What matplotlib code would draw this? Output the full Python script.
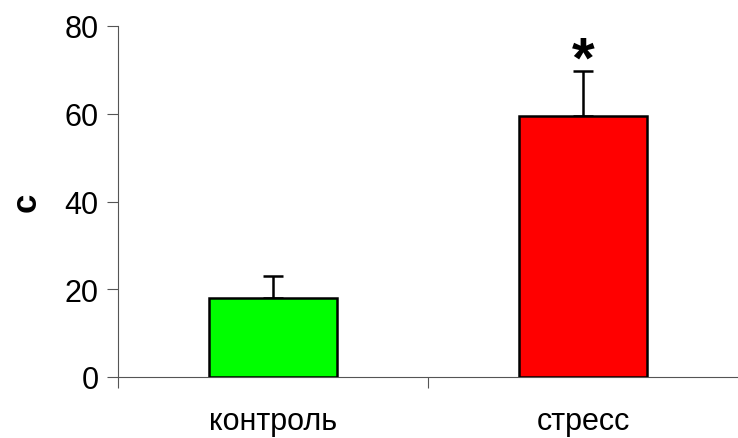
import matplotlib.pyplot as plt
from matplotlib.ticker import FixedLocator, NullFormatter

plt.rcParams["font.family"] = ["Liberation Sans", "DejaVu Sans"]

categories = ["контроль", "стресс"]
means = [18.0, 59.5]
errors = [5.0, 10.2]
colors = ["#00ff00", "#ff0000"]

fig = plt.figure(figsize=(7.38, 4.39), dpi=100)
ax = fig.add_axes([118 / 738, 1 - 378 / 439, 1 - 118 / 738, (378 - 27) / 439])

x = range(len(categories))
ax.bar(x, means, width=0.41, color=colors, edgecolor="black", linewidth=1.8, zorder=3)
ax.errorbar(x, means, yerr=[[0, 0], errors], fmt="none", ecolor="black",
            elinewidth=1.8, capsize=7.5, capthick=1.8, zorder=2)
ax.text(1, means[1] + errors[1] + 2.2, "*", ha="center", va="center",
        fontsize=42, fontweight="bold")

ax.set_xlim(-0.5, 1.5)
ax.set_ylim(0, 80)
ax.set_yticks([0, 20, 40, 60, 80])
ax.set_xticks(list(x))
ax.set_xticklabels(categories)
ax.xaxis.set_minor_locator(FixedLocator([-0.5, 0.5]))
ax.xaxis.set_minor_formatter(NullFormatter())
ax.tick_params(axis="x", which="major", length=0, pad=21, labelsize=22)
ax.tick_params(axis="x", which="minor", direction="out", length=8,
               color="#555555", width=0.8)
ax.tick_params(axis="y", length=8, color="#555555", width=0.8, labelsize=22, pad=6)

for side in ["top", "right"]:
    ax.spines[side].set_visible(False)
for side in ["left", "bottom"]:
    ax.spines[side].set_color("#555555")
    ax.spines[side].set_linewidth(0.8)

ax.set_ylabel("с", fontsize=25, fontweight="bold", labelpad=16)

fig.savefig("out.png", dpi=100)
